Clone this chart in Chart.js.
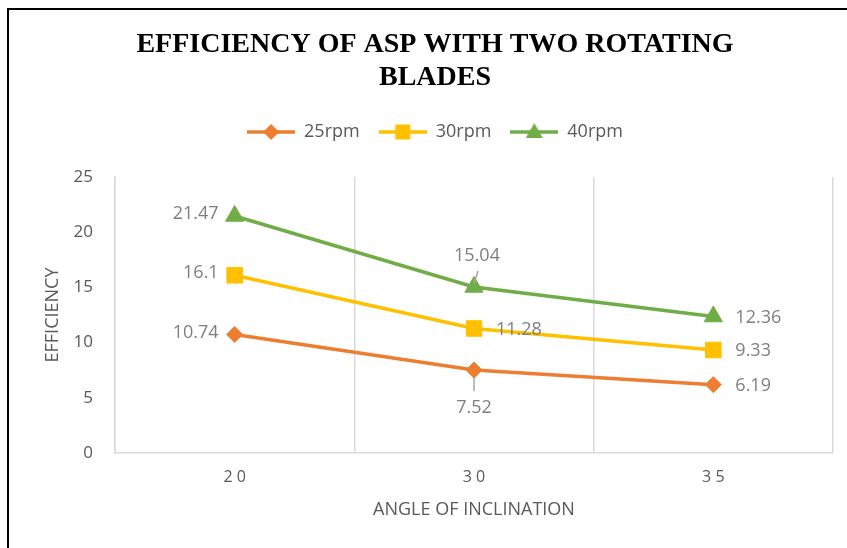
<!DOCTYPE html>
<html>
<head>
<meta charset="utf-8">
<script src="https://cdn.jsdelivr.net/npm/chart.js@4.4.0/dist/chart.umd.min.js"></script>
<style>
  html, body { margin: 0; padding: 0; background: #fff; overflow: hidden; width: 847px; height: 548px; }
  #frame { position: absolute; left: 7px; top: 8px; width: 900px; height: 600px; border: 2px solid #000; box-sizing: border-box; }
  #chart { position: absolute; left: 0; top: 0; }
</style>
</head>
<body>
<div id="frame"></div>
<canvas id="chart" width="870" height="548"></canvas>
<script>
// data
const angles = ['20', '30', '35'];
const seriesNames = ['25rpm', '30rpm', '40rpm'];
const rpm25 = [10.74, 7.52, 6.19];
const rpm30 = [16.1, 11.28, 9.33];
const rpm40 = [21.47, 15.04, 12.36];
const yTicks = [0, 5, 10, 15, 20, 25];

// where each value label sits next to its point
const labelPlace = [
    ['left', 'below', 'right'],
    ['left', 'right', 'right'],
    ['left', 'above', 'right']
];

const orange = '#ED7D31';
const yellow = '#FFC000';
const green = '#70AD47';
const textGrey = '#595959';

Chart.defaults.font.family = "'Open Sans', sans-serif";

//little line+marker pictures for the legend
function legendIcon(color, shape) {
    const c = document.createElement('canvas');
    c.width = 48;
    c.height = 24;
    const g = c.getContext('2d');
    g.strokeStyle = color;
    g.fillStyle = color;
    g.lineWidth = 3.5;
    g.beginPath();
    g.moveTo(0, 12);
    g.lineTo(48, 12);
    g.stroke();
    g.beginPath();
    if (shape === 'diamond') {
        g.moveTo(24, 4); g.lineTo(32, 12); g.lineTo(24, 20); g.lineTo(16, 12);
    } else if (shape === 'square') {
        g.rect(16.5, 4.5, 15, 15);
    } else {
        g.moveTo(24, 3); g.lineTo(32.5, 18); g.lineTo(15.5, 18);
    }
    g.closePath();
    g.fill();
    return c;
}
const icons = [legendIcon(orange, 'diamond'), legendIcon(yellow, 'square'), legendIcon(green, 'triangle')];

//draws the value next to each point, with leader lines where the label sits above/below
const valueLabels = {
    id: 'valueLabels',
    afterInit(chart) {
        const lg = chart.legend;
        const fit = lg.fit;
        lg.fit = function () {
            fit.call(this);
            this.height = 73;
        };
    },
    afterDatasetsDraw(chart) {
        const ctx = chart.ctx;
        ctx.save();
        ctx.font = "18px 'Open Sans'";
        ctx.fillStyle = '#7F7F7F';
        ctx.strokeStyle = '#A6A6A6';
        ctx.lineWidth = 1.5;
        ctx.textBaseline = 'middle';
        chart.data.datasets.forEach((ds, i) => {
            chart.getDatasetMeta(i).data.forEach((pt, j) => {
                const txt = String(ds.data[j]);
                const where = labelPlace[i][j];
                if (where === 'left') {
                    ctx.textAlign = 'right';
                    ctx.fillText(txt, pt.x - 16, pt.y - 2);
                } else if (where === 'right') {
                    ctx.textAlign = 'left';
                    ctx.fillText(txt, pt.x + 22, pt.y + 1);
                } else if (where === 'above') {
                    ctx.textAlign = 'center';
                    ctx.fillText(txt, pt.x + 3, pt.y - 31);
                    ctx.beginPath();
                    ctx.moveTo(pt.x + 4, pt.y - 16);
                    ctx.lineTo(pt.x, pt.y - 3);
                    ctx.stroke();
                } else {
                    ctx.textAlign = 'center';
                    ctx.fillText(txt, pt.x, pt.y + 38);
                    ctx.beginPath();
                    ctx.moveTo(pt.x, pt.y + 8);
                    ctx.lineTo(pt.x, pt.y + 21);
                    ctx.stroke();
                }
            });
        });
        ctx.restore();
    }
};

const config = {
    type: 'line',
    data: {
        labels: angles,
        datasets: [{
            label: seriesNames[0],
            data: rpm25,
            borderColor: orange,
            backgroundColor: orange,
            pointStyle: 'rectRot',
            pointRadius: 8
        }, {
            label: seriesNames[1],
            data: rpm30,
            borderColor: yellow,
            backgroundColor: yellow,
            pointStyle: 'rect',
            pointRadius: 11
        }, {
            label: seriesNames[2],
            data: rpm40,
            borderColor: green,
            backgroundColor: green,
            pointStyle: 'triangle',
            pointRadius: 10.5
        }]
    },
    options: {
        responsive: false,
        animation: false,
        devicePixelRatio: 1,
        layout: { padding: { left: 37, right: 37, top: 0, bottom: 0 } },
        elements: {
            line: { borderWidth: 3.5, tension: 0 },
            point: { borderWidth: 1, hoverRadius: 10 }
        },
        plugins: {
            tooltip: { enabled: false },
            title: {
                display: true,
                text: ['EFFICIENCY OF ASP WITH TWO ROTATING', 'BLADES'],
                color: '#000',
                font: { family: "'Liberation Serif', serif", size: 28, weight: 'bold', lineHeight: 33 / 28 },
                padding: { top: 28.5, bottom: 9.5 }
            },
            legend: {
                position: 'top',
                labels: {
                    color: textGrey,
                    font: { size: 18 },
                    usePointStyle: true,
                    pointStyleWidth: 48,
                    boxHeight: 18,
                    padding: 19,
                    generateLabels: (chart) => Chart.defaults.plugins.legend.labels.generateLabels(chart)
                        .map((item, i) => ({ ...item, pointStyle: icons[i] }))
                }
            }
        },
        scales: {
            x: {
                offset: true,
                grid: { offset: true, color: '#D9D9D9', lineWidth: 1.5, drawTicks: false },
                border: { color: '#D9D9D9', width: 1.5 },
                ticks: {
                    color: textGrey,
                    font: { size: 16 },
                    padding: 15,
                    callback: function (v) { return this.getLabelForValue(v).split('').join(' '); }
                },
                title: {
                    display: true,
                    text: 'ANGLE OF INCLINATION',
                    color: textGrey,
                    font: { size: 18 },
                    padding: { top: 0, bottom: 27 }
                },
                afterFit: (s) => { s.height = 95; }
            },
            y: {
                min: yTicks[0],
                max: yTicks[yTicks.length - 1],
                grid: { display: false, drawTicks: false },
                border: { color: '#D9D9D9', width: 1.5 },
                ticks: { stepSize: yTicks[1] - yTicks[0], color: textGrey, font: { size: 17 }, padding: 22 },
                title: {
                    display: true,
                    text: 'EFFICIENCY',
                    color: textGrey,
                    font: { size: 18 },
                    padding: { top: 5, bottom: 0 }
                },
                afterFit: (s) => { s.width = 78; }
            }
        }
    },
    plugins: [valueLabels]
};

const myChart = new Chart(document.getElementById('chart'), config);
</script>
</body>
</html>
